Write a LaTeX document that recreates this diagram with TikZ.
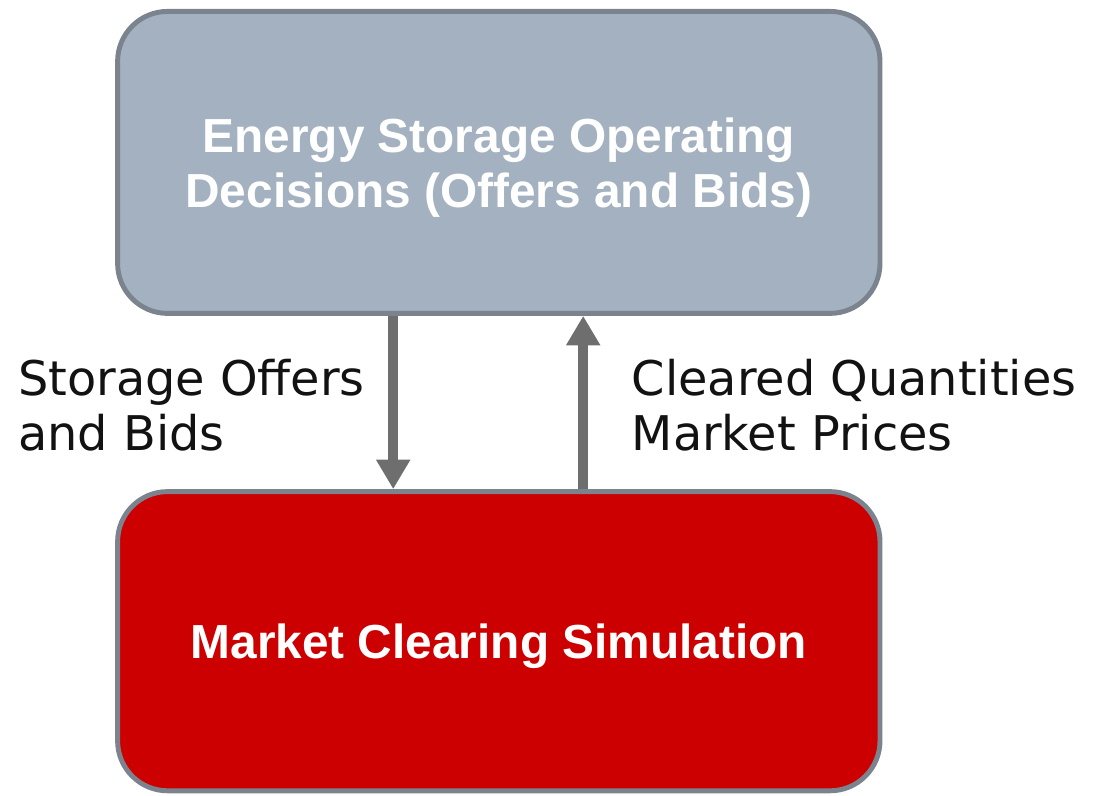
\documentclass[tikz,border=0pt]{standalone}
\usepackage{fontspec}
\usepackage{tikz}
\usetikzlibrary{arrows.meta}

\newfontfamily\boxfont{Liberation Sans}
\newfontfamily\labelfont{DejaVu Sans}

\definecolor{stategray}{HTML}{A3B1C0}
\definecolor{edgegray}{HTML}{7B848E}
\definecolor{marketred}{HTML}{CC0000}
\definecolor{flowgray}{HTML}{6E6E6E}

\tikzset{
  box/.style={rectangle, rounded corners=1.25cm, draw=edgegray, line width=3.5pt,
    minimum width=19.06cm, text=white, align=center, text depth=-2pt,
    font=\boxfont\bfseries\fontsize{34}{39}\selectfont},
  flow/.style={draw=flowgray, line width=7pt,
    -{Triangle[width=23pt,length=21pt]}},
  lbl/.style={align=left, anchor=west, text=black!93,
    font=\labelfont\fontsize{34}{39}\selectfont}
}

\begin{document}
\begin{tikzpicture}
 \useasboundingbox (0,0) rectangle (27.325,-19.875);
  \draw (12.47,-4.06) node[box, fill=stategray, minimum height=7.55cm] (decisions) {Energy Storage Operating\\Decisions (Offers and Bids)};
  \draw (12.47,-16.03) node[box, fill=marketred, minimum height=7.48cm] (market) {Market Clearing Simulation};

  \draw (0.33,-10.12) node[lbl] (offers) {Storage Offers\\and Bids};
  \draw (15.67,-10.12) node[lbl] (cleared) {Cleared Quantities\\Market Prices};

  % offers go down, results come back up
  \path[flow] ([xshift=-2.64cm]decisions.south) -- ([xshift=-2.64cm]market.north);
  \path[flow] ([xshift=2.11cm]market.north) -- ([xshift=2.11cm]decisions.south);
\end{tikzpicture}
\end{document}
